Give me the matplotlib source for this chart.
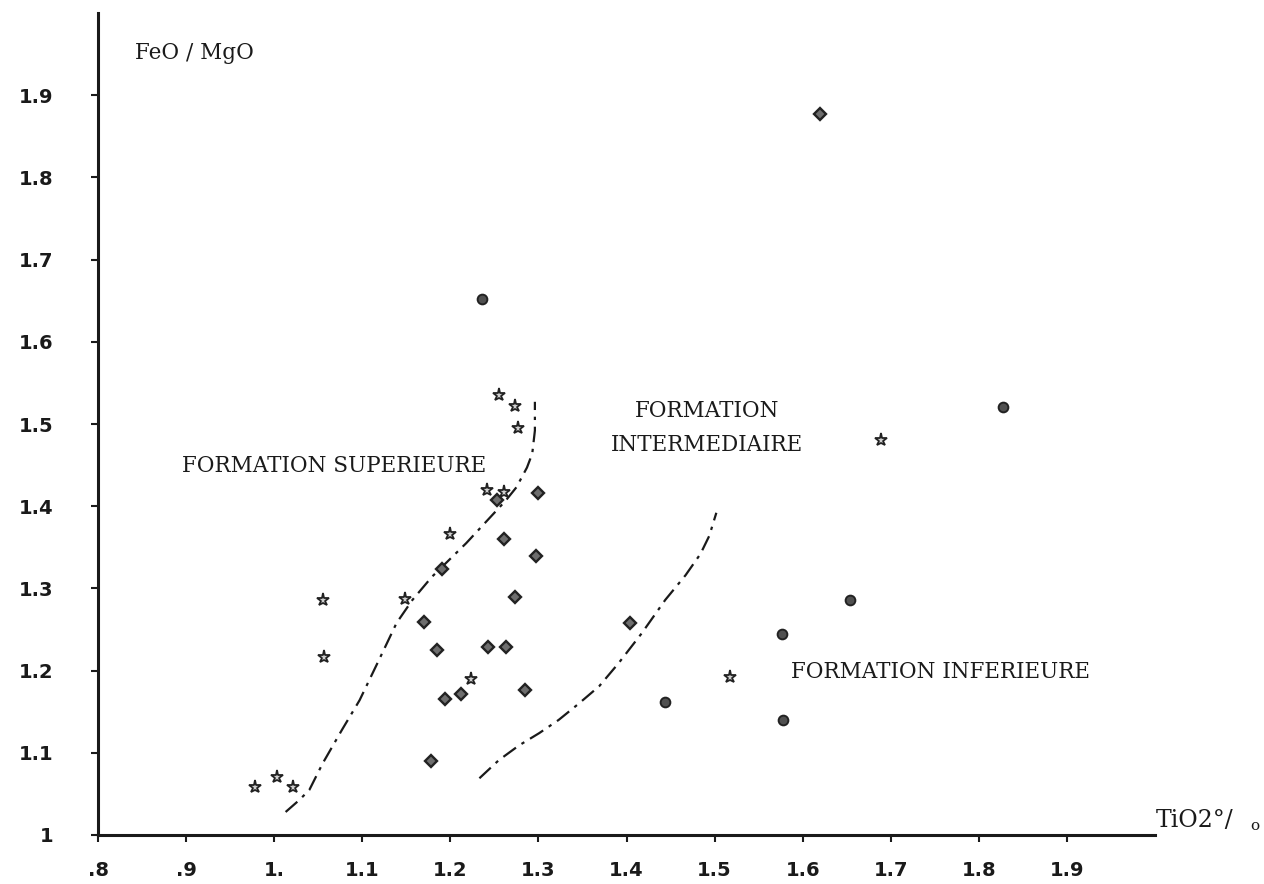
import matplotlib.pyplot as plt

# Data (TiO2 % vs FeO/MgO)
diamond_x = [1.620, 1.253, 1.299, 1.261, 1.297, 1.191, 1.273, 1.170, 1.404,
             1.185, 1.243, 1.263, 1.194, 1.212, 1.285, 1.178]
diamond_y = [1.877, 1.407, 1.416, 1.360, 1.339, 1.323, 1.290, 1.259, 1.258,
             1.225, 1.229, 1.229, 1.166, 1.171, 1.176, 1.090]

star_x = [1.255, 1.273, 1.277, 1.242, 1.261, 1.200, 1.055, 1.148, 1.057,
          1.224, 1.517, 1.689, 0.978, 1.003, 1.021]
star_y = [1.535, 1.522, 1.495, 1.420, 1.417, 1.366, 1.286, 1.287, 1.216,
          1.190, 1.192, 1.480, 1.058, 1.070, 1.058]

circle_x = [1.236, 1.827, 1.654, 1.576, 1.444, 1.578]
circle_y = [1.652, 1.521, 1.286, 1.244, 1.162, 1.140]

# boundary between formation superieure and intermediaire
upper_x = [1.013, 1.029, 1.040, 1.055, 1.077, 1.097, 1.119, 1.139, 1.157,
           1.179, 1.218, 1.263, 1.275, 1.287, 1.293, 1.296, 1.296]
upper_y = [1.028, 1.043, 1.055, 1.087, 1.128, 1.164, 1.213, 1.258, 1.286,
           1.314, 1.355, 1.407, 1.423, 1.447, 1.464, 1.492, 1.527]

# boundary between formation intermediaire and inferieure
lower_x = [1.233, 1.255, 1.278, 1.301, 1.323, 1.346, 1.369, 1.391, 1.417,
           1.444, 1.467, 1.484, 1.494, 1.502]
lower_y = [1.069, 1.091, 1.109, 1.124, 1.140, 1.160, 1.181, 1.209, 1.245,
           1.286, 1.316, 1.342, 1.364, 1.392]

x_ticks = [0.8, 0.9, 1.0, 1.1, 1.2, 1.3, 1.4, 1.5, 1.6, 1.7, 1.8, 1.9]
x_labels = ['.8', '.9', '1.', '1.1', '1.2', '1.3', '1.4', '1.5', '1.6', '1.7', '1.8', '1.9']
y_ticks = [1.0, 1.1, 1.2, 1.3, 1.4, 1.5, 1.6, 1.7, 1.8, 1.9]
y_labels = ['1', '1.1', '1.2', '1.3', '1.4', '1.5', '1.6', '1.7', '1.8', '1.9']

serif = 'DejaVu Serif'
ink = '#1a1a1a'

fig = plt.figure(figsize=(12.64, 8.84), dpi=100)
ax = fig.add_axes([98 / 1264, 49 / 884, 1057 / 1264, 822 / 884])
ax.set_xlim(0.8, 2.0)
ax.set_ylim(1.0, 2.0)

dash = (0, (7, 3, 1.5, 3))
ax.plot(upper_x, upper_y, color=ink, lw=1.6, linestyle=dash)
ax.plot(lower_x, lower_y, color=ink, lw=1.6, linestyle=dash)

ax.plot(diamond_x, diamond_y, 'D', ms=6.5, mfc='#6e6e6e', mec='#222222', mew=1.7)
ax.plot(star_x, star_y, '*', ms=9.5, mfc='#cfcfcf', mec='#222222', mew=1.3)
ax.plot(circle_x, circle_y, 'o', ms=7, mfc='#505050', mec='#222222', mew=1.4)

for side in ('top', 'right'):
    ax.spines[side].set_visible(False)
for side in ('left', 'bottom'):
    ax.spines[side].set_linewidth(2.2)
    ax.spines[side].set_color(ink)

ax.set_xticks(x_ticks)
ax.set_xticklabels(x_labels, fontfamily='DejaVu Sans', fontweight='bold', fontsize=14)
ax.set_yticks(y_ticks)
ax.set_yticklabels(y_labels, fontfamily='DejaVu Sans', fontweight='bold', fontsize=14)
ax.tick_params(axis='x', direction='out', length=5, width=1.5, pad=14, colors=ink)
ax.tick_params(axis='y', direction='out', length=5, width=1.5, pad=27, colors=ink)

ax.text(0.842, 1.951, 'FeO / MgO', family=serif, fontsize=15.5, color=ink, ha='left', va='center')
ax.text(2.001, 1.018, 'TiO2°/', family=serif, fontsize=17, color=ink, ha='left', va='center', clip_on=False)
ax.text(2.108, 1.011, 'o', family=serif, fontsize=11, color=ink, ha='left', va='center', clip_on=False)

ax.text(1.2405, 1.449, 'FORMATION SUPERIEURE', family=serif, fontsize=15.5, color=ink, ha='right', va='center')
ax.text(1.491, 1.516, 'FORMATION', family=serif, fontsize=15.5, color=ink, ha='center', va='center')
ax.text(1.491, 1.474, 'INTERMEDIAIRE', family=serif, fontsize=15.5, color=ink, ha='center', va='center')
ax.text(1.587, 1.198, 'FORMATION INFERIEURE', family=serif, fontsize=15.5, color=ink, ha='left', va='center')

fig.savefig('out.png', dpi=100)
